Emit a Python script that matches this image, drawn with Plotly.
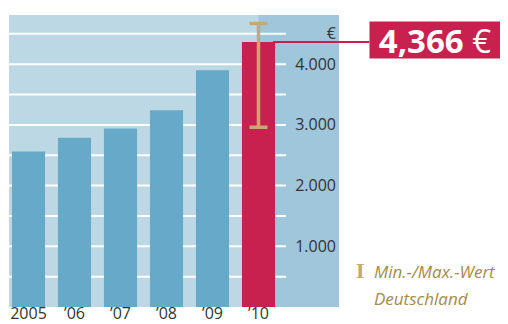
import plotly.graph_objects as go

# values
years = ["2005", "\u201906", "\u201907", "\u201908", "\u201909", "\u201910"]
costs = [2560, 2790, 2940, 3240, 3900, 4366]
de_min = 2960
de_max = 4670
grid_vals = [500, 1000, 1500, 2000, 2500, 3000, 3500, 4000, 4500]
tick_vals = [1000, 2000, 3000, 4000, 4500]
tick_text = ["1.000", "2.000", "3.000", "4.000", "\u20ac"]

blue = "#67A9C8"
red = "#C8204F"
tan = "#C6A874"
gold = "#A38B4C"
font = "Open Sans"

colors = [blue] * (len(years) - 1) + [red]

fig = go.Figure()
fig.add_trace(go.Bar(x=years, y=costs, marker=dict(color=colors, line=dict(width=0)),
                     width=0.72, hoverinfo="skip"))

# min/max range for Germany drawn on the last bar
fig.add_trace(go.Scatter(
    x=[years[-1]], y=[costs[-1]], mode="markers",
    marker=dict(size=1, opacity=0),
    error_y=dict(type="data", symmetric=False,
                 array=[de_max - costs[-1]], arrayminus=[costs[-1] - de_min],
                 color=tan, thickness=3.5, width=9),
    hoverinfo="skip"))

shapes = [
    # lighter panel behind the years 2005-'09
    dict(type="rect", xref="x", yref="paper", x0=-1, x1=5, y0=0, y1=1,
         fillcolor="#BDD8E5", line=dict(width=0), layer="below"),
]
for g in grid_vals:
    shapes.append(dict(type="line", xref="paper", yref="y", x0=0, x1=0.839, y0=g, y1=g,
                       line=dict(color="white", width=2), layer="below"))
# connector from the 2010 bar to the value label
shapes.append(dict(type="line", xref="paper", yref="y", x0=0.8, x1=1.092,
                   y0=costs[-1], y1=costs[-1], line=dict(color=red, width=2)))

annotations = [
    dict(text="<b>4,366</b> \u20ac", xref="paper", yref="y", x=1.091, y=costs[-1],
         xanchor="left", yanchor="middle", yshift=2, showarrow=False,
         bgcolor=red, borderpad=0, width=130, height=36,
         font=dict(family=font, size=33, color="white")),
    dict(text="<b>I</b>", xref="paper", yref="paper", x=1.064, y=0.12,
         xanchor="center", yanchor="middle", showarrow=False,
         font=dict(family="DejaVu Serif", size=18, color=tan)),
    dict(text="<i>Min.-/Max.-Wert</i>", xref="paper", yref="paper", x=1.101, y=0.12,
         xanchor="left", yanchor="middle", showarrow=False,
         font=dict(family=font, size=17, color=gold)),
    dict(text="<i>Deutschland</i>", xref="paper", yref="paper", x=1.101, y=0.028,
         xanchor="left", yanchor="middle", showarrow=False,
         font=dict(family=font, size=17, color=gold)),
]

# the page body adds an 8px offset, so the figure is 8px smaller each way
fig.update_layout(
    width=500, height=316,
    margin=dict(l=1, r=169, t=7, b=17),
    paper_bgcolor="white", plot_bgcolor="#9FC6DA",
    showlegend=False, bargap=0.28,
    font=dict(family=font, size=16, color="#333333"),
    shapes=shapes, annotations=annotations,
    xaxis=dict(range=[-0.424, 6.75], showgrid=False, zeroline=False, showline=False,
               ticks="", automargin=False, ticklabelstandoff=-5,
               tickfont=dict(size=16, color="#333333")),
    yaxis=dict(range=[0, 4810], side="right", ticklabelposition="inside",
               tickvals=tick_vals, ticktext=tick_text, showgrid=False,
               zeroline=False, showline=False, ticks="", automargin=False,
               tickfont=dict(size=16, color="#333333")),
)

fig.write_html("out.html")
